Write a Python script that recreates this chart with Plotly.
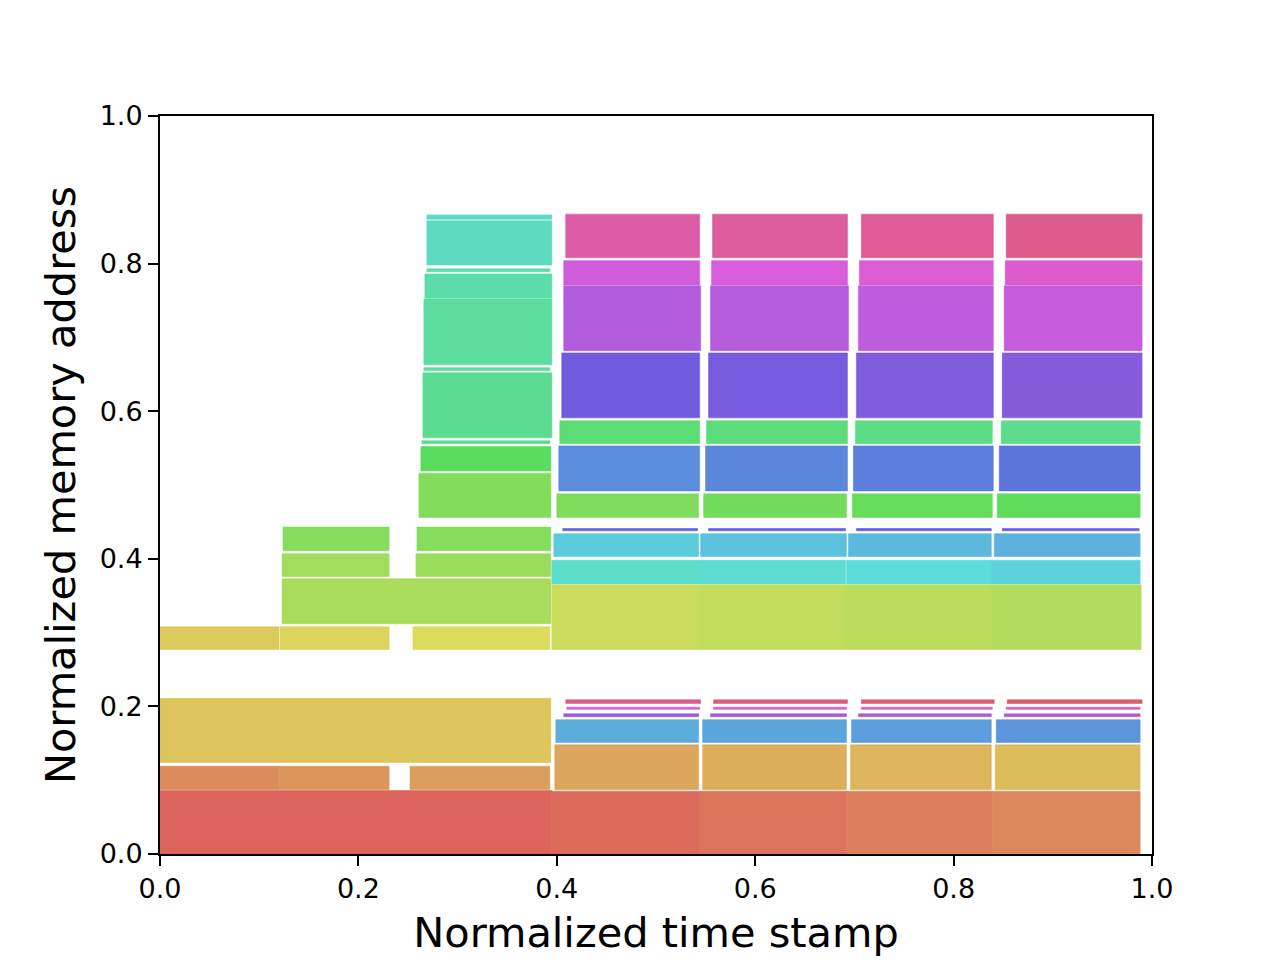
import plotly.graph_objects as go

# memory blocks: time span (x) and address span (y), normalized
# left part: early allocations
x_start = [0.0, 0.0, 0.119, 0.252, 0.0,
           0.0, 0.121, 0.255, 0.123, 0.123, 0.258, 0.124, 0.259,
           0.261, 0.263, 0.264, 0.265, 0.266, 0.266, 0.267, 0.269, 0.269, 0.269]
x_end = [0.395, 0.119, 0.231, 0.393, 0.394,
         0.120, 0.231, 0.393, 0.394, 0.231, 0.394, 0.231, 0.394,
         0.394, 0.394, 0.393, 0.395, 0.393, 0.395, 0.395, 0.393, 0.395, 0.395]
addr_lo = [0.0, 0.087, 0.087, 0.087, 0.124,
           0.277, 0.277, 0.277, 0.312, 0.376, 0.376, 0.411, 0.411,
           0.456, 0.519, 0.556, 0.564, 0.655, 0.663, 0.753, 0.789, 0.798, 0.860]
addr_hi = [0.086, 0.119, 0.119, 0.119, 0.211,
           0.308, 0.308, 0.308, 0.373, 0.407, 0.407, 0.443, 0.443,
           0.516, 0.552, 0.560, 0.652, 0.659, 0.752, 0.786, 0.793, 0.858, 0.866]
colors = ["#db5f57", "#db8757", "#db9357", "#db9b57", "#dbc457",
          "#dbc857", "#dbd357", "#dbdb57", "#a7db57", "#9fdb57", "#97db57", "#82db57", "#82db57",
          "#7fdb57", "#57db5a", "#57db8c", "#57db8f", "#57db98", "#57db9c", "#57dba5", "#57dbad", "#57dbbb", "#57dbc2"]

# right part: four repeated iterations, one line per address slot
x_start += [0.409, 0.557, 0.707, 0.853,
            0.407, 0.556, 0.705, 0.852,
            0.407, 0.555, 0.704, 0.851,
            0.405, 0.553, 0.702, 0.849,
            0.403, 0.551, 0.701, 0.848,
            0.402, 0.550, 0.699, 0.846,
            0.400, 0.548, 0.698, 0.844,
            0.406, 0.553, 0.702, 0.849,
            0.397, 0.545, 0.694, 0.841,
            0.395, 0.543, 0.692, 0.838,
            0.395, 0.543, 0.691, 0.838,
            0.409, 0.558, 0.707, 0.854,
            0.410, 0.558, 0.707, 0.853,
            0.407, 0.555, 0.704, 0.851,
            0.399, 0.547, 0.697, 0.843,
            0.398, 0.547, 0.696, 0.842,
            0.395, 0.544, 0.692, 0.839]
x_end += [0.544, 0.693, 0.840, 0.990,
          0.544, 0.693, 0.840, 0.990,
          0.545, 0.694, 0.840, 0.990,
          0.544, 0.693, 0.840, 0.990,
          0.544, 0.693, 0.839, 0.988,
          0.544, 0.693, 0.840, 0.988,
          0.543, 0.692, 0.839, 0.988,
          0.542, 0.691, 0.838, 0.987,
          0.543, 0.692, 0.838, 0.988,
          0.543, 0.691, 0.838, 0.988,
          0.543, 0.691, 0.838, 0.989,
          0.545, 0.693, 0.841, 0.990,
          0.544, 0.692, 0.839, 0.988,
          0.543, 0.692, 0.838, 0.988,
          0.543, 0.692, 0.838, 0.988,
          0.543, 0.692, 0.838, 0.988,
          0.544, 0.692, 0.839, 0.988]
slot_lo = [0.808, 0.771, 0.682, 0.591, 0.556, 0.492, 0.456, 0.438, 0.403,
           0.366, 0.277, 0.204, 0.196, 0.186, 0.151, 0.087, 0.0]
slot_hi = [0.867, 0.804, 0.770, 0.679, 0.587, 0.553, 0.488, 0.441, 0.434,
           0.398, 0.365, 0.209, 0.199, 0.190, 0.182, 0.148, 0.085]
for lo, hi in zip(slot_lo, slot_hi):
    addr_lo += [lo] * 4
    addr_hi += [hi] * 4
colors += ["#db57a5", "#db579b", "#db5790", "#db5788",
           "#d057db", "#d857db", "#db57d3", "#db57cb",
           "#ad57db", "#b257db", "#bb57db", "#c457db",
           "#6b57db", "#7257db", "#7b57db", "#8357db",
           "#57db6f", "#57db77", "#57db80", "#57db88",
           "#5789db", "#5781db", "#577adb", "#5770db",
           "#7bdb57", "#6edb57", "#62db57", "#5adb57",
           "#5761db", "#575bdb", "#5d57db", "#6457db",
           "#57c9db", "#57bfdb", "#57b7db", "#57afdb",
           "#57dbc9", "#57dbd1", "#57dbda", "#57d2db",
           "#c9db57", "#c1db57", "#badb57", "#b1db57",
           "#db5782", "#db5778", "#db5770", "#db5769",
           "#db57c9", "#db57bf", "#db57b8", "#db57b0",
           "#9657db", "#9f57db", "#a757db", "#af57db",
           "#57aadb", "#57a2db", "#579bdb", "#5792db",
           "#dba357", "#dbab57", "#dbb357", "#dbbb57",
           "#db6657", "#db7057", "#db7a57", "#db8357"]

ticks = [0.0, 0.2, 0.4, 0.6, 0.8, 1.0]
tick_text = ["0.0", "0.2", "0.4", "0.6", "0.8", "1.0"]


def rgba(hx, a):
    r, g, b = int(hx[1:3], 16), int(hx[3:5], 16), int(hx[5:7], 16)
    return "rgba(%d,%d,%d,%s)" % (r, g, b, a)


fig = go.Figure()
for x0, x1, y0, y1, c in zip(x_start, x_end, addr_lo, addr_hi, colors):
    fig.add_trace(go.Scatter(
        x=[x0, x1, x1, x0, x0],
        y=[y0, y0, y1, y1, y0],
        mode="lines",
        fill="toself",
        fillcolor=rgba(c, 0.97),
        line=dict(color=rgba(c, 0.55), width=1),
        hoverinfo="skip",
        showlegend=False,
    ))

axis_style = dict(
    range=[0, 1],
    tickvals=ticks,
    ticktext=tick_text,
    showline=True,
    linecolor="black",
    linewidth=2,
    mirror=True,
    ticks="outside",
    ticklen=10,
    tickwidth=2,
    tickcolor="black",
    showgrid=False,
    zeroline=False,
    tickfont=dict(size=27, color="black"),
)

# page body has an 8px margin, so the plot area is shifted back by that
fig.update_layout(
    width=1280,
    height=960,
    margin=dict(l=152, r=136, t=108, b=114),
    paper_bgcolor="white",
    plot_bgcolor="white",
    font=dict(family="DejaVu Sans", color="black"),
    xaxis=dict(axis_style, title=dict(text="Normalized time stamp", font=dict(size=41.5), standoff=15)),
    yaxis=dict(axis_style, title=dict(text="Normalized memory address", font=dict(size=41.5), standoff=11)),
)

fig.write_html("out.html")
